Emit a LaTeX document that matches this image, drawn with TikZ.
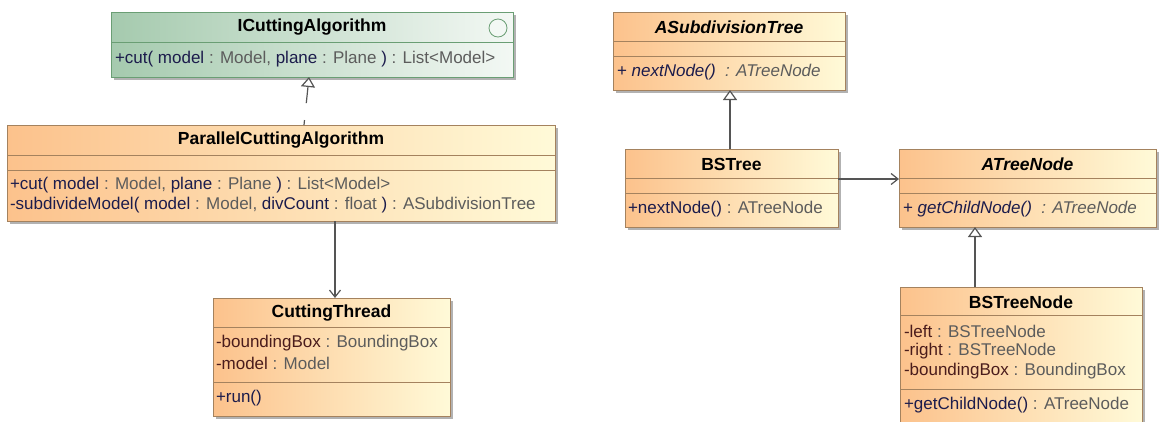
\documentclass[tikz,border=0pt]{standalone}
\usepackage{fontspec}
\setmainfont{Liberation Sans}
\usetikzlibrary{calc,arrows.meta,shadows}
\definecolor{oL}{HTML}{FCC28C}
\definecolor{oR}{HTML}{FFFAD8}
\definecolor{oB}{HTML}{A4825E}
\definecolor{gL}{HTML}{A5CAAE}
\definecolor{gR}{HTML}{F3F8F4}
\definecolor{gB}{HTML}{6A9E74}
\definecolor{nmc}{HTML}{1C1C4C}
\definecolor{tyc}{HTML}{5C5C5C}
\definecolor{atc}{HTML}{4A1C1C}
\definecolor{lnc}{HTML}{555555}
\newcommand{\clsN}[1]{\textcolor{nmc}{#1}}
\newcommand{\clsT}[1]{\textcolor{tyc}{#1}}
\newcommand{\clsA}[1]{\textcolor{atc}{#1}}
\begin{document}
\begin{tikzpicture}[x=1pt,y=-1pt,
  every node/.style={inner sep=0pt, outer sep=0pt, font=\fontsize{17}{20}\selectfont},
  box/.style={anchor=north west, line width=1pt, drop shadow={shadow xshift=3pt,shadow yshift=-3pt,opacity=0.3,fill=black}},
  obox/.style={box, draw=oB, left color=oL, right color=oR},
  gbox/.style={box, draw=gB, left color=gL, right color=gR},
  odiv/.style={draw=oB, line width=1pt},
  gdiv/.style={draw=gB, line width=1pt},
  ttl/.style={font=\fontsize{17.5}{20}\selectfont\bfseries},
  attl/.style={font=\fontsize{17.5}{20}\selectfont\bfseries\itshape},
  mem/.style={anchor=west},
  gen/.style={draw=lnc, line width=1.2pt, -{Triangle[open,length=10pt,width=14pt,fill=white]}},
  real/.style={gen, dash pattern=on 16pt off 17pt, dash phase=11pt},
  assoc/.style={draw=lnc, line width=1.2pt, -{Straight Barb[length=7pt,width=11pt]}},
]
\useasboundingbox (0,0) rectangle (1159,421);

% ICuttingAlgorithm
\node[gbox, minimum width=402, minimum height=65] (ica) at (111,12) {};
\draw[gdiv] ($(ica.north west)+(0,30)$) -- ($(ica.north east)+(0,30)$);
\node[ttl] (ica-t) at ($(ica.north)+(0,15)$) {ICuttingAlgorithm};
\node[circle, draw=gB, fill=gR, minimum size=18, line width=0.8pt] (ica-i) at ($(ica.north east)+(-15,16)$) {};
\node[mem] (ica-m1) at ($(ica.north west)+(4,47)$) {\clsN{+cut( model} \clsT{: Model,} \clsN{plane} \clsT{: Plane} \clsN{)} \clsT{: List<Model>}};

% ParallelCuttingAlgorithm
\node[obox, minimum width=548, minimum height=96] (pca) at (7,125) {};
\draw[odiv] ($(pca.north west)+(0,30)$) -- ($(pca.north east)+(0,30)$);
\draw[odiv] ($(pca.north west)+(0,45)$) -- ($(pca.north east)+(0,45)$);
\node[ttl] (pca-t) at ($(pca.north)+(0,15)$) {ParallelCuttingAlgorithm};
\node[mem] (pca-m1) at ($(pca.north west)+(3,60)$) {\clsN{+cut( model} \clsT{: Model,} \clsN{plane} \clsT{: Plane} \clsN{)} \clsT{: List<Model>}};
\node[mem] (pca-m2) at ($(pca.north west)+(3,80)$) {\clsN{-subdivideModel( model} \clsT{: Model,} \clsN{divCount} \clsT{: float} \clsN{)} \clsT{: ASubdivisionTree}};

% CuttingThread
\node[obox, minimum width=237, minimum height=118] (ct) at (213,298) {};
\draw[odiv] ($(ct.north west)+(0,29)$) -- ($(ct.north east)+(0,29)$);
\draw[odiv] ($(ct.north west)+(0,84)$) -- ($(ct.north east)+(0,84)$);
\node[ttl] (ct-t) at ($(ct.north)+(0,15)$) {CuttingThread};
\node[mem] (ct-a1) at ($(ct.north west)+(3,45)$) {\clsA{-boundingBox} \clsT{: BoundingBox}};
\node[mem] (ct-a2) at ($(ct.north west)+(3,65)$) {\clsA{-model} \clsT{: Model}};
\node[mem] (ct-m1) at ($(ct.north west)+(3,100)$) {\clsN{+run()}};

% ASubdivisionTree
\node[obox, minimum width=232, minimum height=78] (asub) at (613,12) {};
\draw[odiv] ($(asub.north west)+(0,29)$) -- ($(asub.north east)+(0,29)$);
\draw[odiv] ($(asub.north west)+(0,44)$) -- ($(asub.north east)+(0,44)$);
\node[attl] (asub-t) at ($(asub.north)+(0,15)$) {ASubdivisionTree};
\node[mem] (asub-m1) at ($(asub.north west)+(4,60)$) {\clsN{+ \textit{nextNode()}}\ \ \clsT{\itshape : ATreeNode}};

% BSTree
\node[obox, minimum width=213, minimum height=78] (bst) at (625,149) {};
\draw[odiv] ($(bst.north west)+(0,29)$) -- ($(bst.north east)+(0,29)$);
\draw[odiv] ($(bst.north west)+(0,44)$) -- ($(bst.north east)+(0,44)$);
\node[ttl] (bst-t) at ($(bst.north)+(0,15)$) {BSTree};
\node[mem] (bst-m1) at ($(bst.north west)+(3,60)$) {\clsN{+nextNode()} \clsT{: ATreeNode}};

% ATreeNode
\node[obox, minimum width=257, minimum height=78] (atn) at (899,149) {};
\draw[odiv] ($(atn.north west)+(0,29)$) -- ($(atn.north east)+(0,29)$);
\draw[odiv] ($(atn.north west)+(0,44)$) -- ($(atn.north east)+(0,44)$);
\node[attl] (atn-t) at ($(atn.north)+(0,15)$) {ATreeNode};
\node[mem] (atn-m1) at ($(atn.north west)+(4,60)$) {\clsN{+ \textit{getChildNode()}}\ \ \clsT{\itshape : ATreeNode}};

% BSTreeNode
\node[obox, minimum width=242, minimum height=136] (btn) at (900,287) {};
\draw[odiv] ($(btn.north west)+(0,28)$) -- ($(btn.north east)+(0,28)$);
\draw[odiv] ($(btn.north west)+(0,102)$) -- ($(btn.north east)+(0,102)$);
\node[ttl] (btn-t) at ($(btn.north)+(0,15)$) {BSTreeNode};
\node[mem] (btn-a1) at ($(btn.north west)+(4,44)$) {\clsA{-left} \clsT{: BSTreeNode}};
\node[mem] (btn-a2) at ($(btn.north west)+(4,64)$) {\clsA{-right} \clsT{: BSTreeNode}};
\node[mem] (btn-a3) at ($(btn.north west)+(4,84)$) {\clsA{-boundingBox} \clsT{: BoundingBox}};
\node[mem] (btn-m1) at ($(btn.north west)+(4,118)$) {\clsN{+getChildNode()} \clsT{: ATreeNode}};

% connectors
\coordinate (r1s) at ($(pca.north west)+(297,0)$);
\coordinate (r1e) at ($(ica.south west)+(198,0)$);
\draw[real] (r1s) -- (r1e);

\coordinate (g1) at ($(bst.north west)+(105,0)$);
\draw[gen] (g1) -- (g1 |- asub.south);

\coordinate (a1) at ($(bst.north east)+(0,30)$);
\draw[assoc] (a1) -- (a1 -| atn.west);

\coordinate (a2) at ($(pca.south west)+(328,0)$);
\draw[assoc] (a2) -- (a2 |- ct.north);

\coordinate (g2) at ($(btn.north west)+(75,0)$);
\draw[gen] (g2) -- (g2 |- atn.south);
\end{tikzpicture}
\end{document}
